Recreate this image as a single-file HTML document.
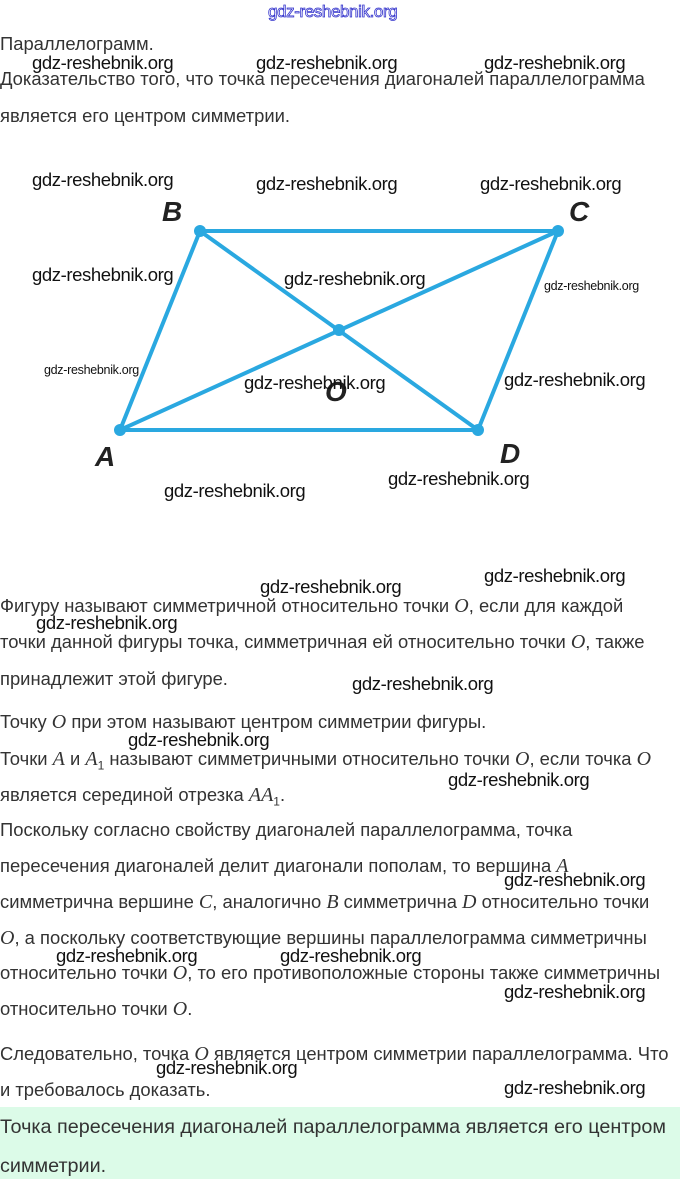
<!DOCTYPE html>
<html><head><meta charset="utf-8"><style>
body{margin:0;width:680px;height:1179px;position:relative;background:#fff;overflow:hidden;font-family:"Liberation Sans",sans-serif}
.t{position:absolute;left:0;font-size:18.4px;line-height:20px;color:#333;white-space:nowrap}
.w{position:absolute;font-size:18.5px;line-height:20px;color:#111;white-space:nowrap;letter-spacing:-0.4px}
.s{font-size:12.5px;letter-spacing:-0.3px}
i{font-family:"Liberation Serif",serif;font-size:20px}
.g{position:absolute;left:0;top:1107px;width:680px;height:72px;background:#dcfbe8}
.L{position:absolute;font:italic bold 28px "Liberation Sans",sans-serif;color:#222}
</style></head><body>
<div class="g"></div>
<div class="w" style="left:268px;top:2px;color:#fff;-webkit-text-stroke:0.8px #3333cc;font-size:17px">gdz-reshebnik.org</div>
<div class="t" style="top:34px">Параллелограмм.</div>
<div class="t" style="top:69px">Доказательство того, что точка пересечения диагоналей параллелограмма</div>
<div class="t" style="top:106px">является его центром симметрии.</div>
<div class="w" style="left:32px;top:53px">gdz-reshebnik.org</div>
<div class="w" style="left:256px;top:53px">gdz-reshebnik.org</div>
<div class="w" style="left:484px;top:53px">gdz-reshebnik.org</div>
<svg style="position:absolute;left:0;top:0" width="680" height="520">
<g stroke="#2aa8e0" stroke-width="4" fill="none" stroke-linecap="round">
<polygon points="200,231 558,231 478,430 120,430"/>
<line x1="120" y1="430" x2="558" y2="231"/><line x1="200" y1="231" x2="478" y2="430"/>
</g>
<g fill="#2aa8e0"><circle cx="200" cy="231" r="6"/><circle cx="558" cy="231" r="6"/><circle cx="120" cy="430" r="6"/><circle cx="478" cy="430" r="6"/><circle cx="339" cy="330" r="6"/></g>
</svg>
<div class="L" style="left:162px;top:196px">B</div>
<div class="L" style="left:569px;top:196px">C</div>
<div class="L" style="left:95px;top:441px">A</div>
<div class="L" style="left:500px;top:438px">D</div>
<div class="L" style="left:325px;top:376px">O</div>
<div class="w" style="left:32px;top:170px">gdz-reshebnik.org</div>
<div class="w" style="left:256px;top:174px">gdz-reshebnik.org</div>
<div class="w" style="left:480px;top:174px">gdz-reshebnik.org</div>
<div class="w" style="left:32px;top:265px">gdz-reshebnik.org</div>
<div class="w" style="left:284px;top:269px">gdz-reshebnik.org</div>
<div class="w s" style="left:544px;top:276px">gdz-reshebnik.org</div>
<div class="w s" style="left:44px;top:360px">gdz-reshebnik.org</div>
<div class="w" style="left:244px;top:373px">gdz-reshebnik.org</div>
<div class="w" style="left:504px;top:370px">gdz-reshebnik.org</div>
<div class="w" style="left:164px;top:481px">gdz-reshebnik.org</div>
<div class="w" style="left:388px;top:469px">gdz-reshebnik.org</div>
<div class="t" style="top:596px">Фигуру называют симметричной относительно точки <i>O</i>, если для каждой</div>
<div class="t" style="top:632px">точки данной фигуры точка, симметричная ей относительно точки <i>O</i>, также</div>
<div class="t" style="top:669px">принадлежит этой фигуре.</div>
<div class="t" style="top:712px">Точку <i>O</i> при этом называют центром симметрии фигуры.</div>
<div class="t" style="top:749px">Точки <i>A</i> и <i>A</i><sub style="font-size:12px">1</sub> называют симметричными относительно точки <i>O</i>, если точка <i>O</i></div>
<div class="t" style="top:785px">является серединой отрезка <i>AA</i><sub style="font-size:12px">1</sub>.</div>
<div class="t" style="top:820px">Поскольку согласно свойству диагоналей параллелограмма, точка</div>
<div class="t" style="top:856px">пересечения диагоналей делит диагонали пополам, то вершина <i>A</i></div>
<div class="t" style="top:892px">симметрична вершине <i>C</i>, аналогично <i>B</i> симметрична <i>D</i> относительно точки</div>
<div class="t" style="top:928px"><i>O</i>, а поскольку соответствующие вершины параллелограмма симметричны</div>
<div class="t" style="top:963px">относительно точки <i>O</i>, то его противоположные стороны также симметричны</div>
<div class="t" style="top:999px">относительно точки <i>O</i>.</div>
<div class="t" style="top:1044px">Следовательно, точка <i>O</i> является центром симметрии параллелограмма. Что</div>
<div class="t" style="top:1080px">и требовалось доказать.</div>
<div class="t" style="top:1117px;font-size:19.8px">Точка пересечения диагоналей параллелограмма является его центром</div>
<div class="t" style="top:1156px;font-size:19.8px">симметрии.</div>
<div class="w" style="left:260px;top:577px">gdz-reshebnik.org</div>
<div class="w" style="left:484px;top:566px">gdz-reshebnik.org</div>
<div class="w" style="left:36px;top:613px">gdz-reshebnik.org</div>
<div class="w" style="left:352px;top:674px">gdz-reshebnik.org</div>
<div class="w" style="left:128px;top:730px">gdz-reshebnik.org</div>
<div class="w" style="left:448px;top:770px">gdz-reshebnik.org</div>
<div class="w" style="left:504px;top:870px">gdz-reshebnik.org</div>
<div class="w" style="left:56px;top:946px">gdz-reshebnik.org</div>
<div class="w" style="left:280px;top:946px">gdz-reshebnik.org</div>
<div class="w" style="left:504px;top:982px">gdz-reshebnik.org</div>
<div class="w" style="left:156px;top:1058px">gdz-reshebnik.org</div>
<div class="w" style="left:504px;top:1078px">gdz-reshebnik.org</div>
</body></html>
